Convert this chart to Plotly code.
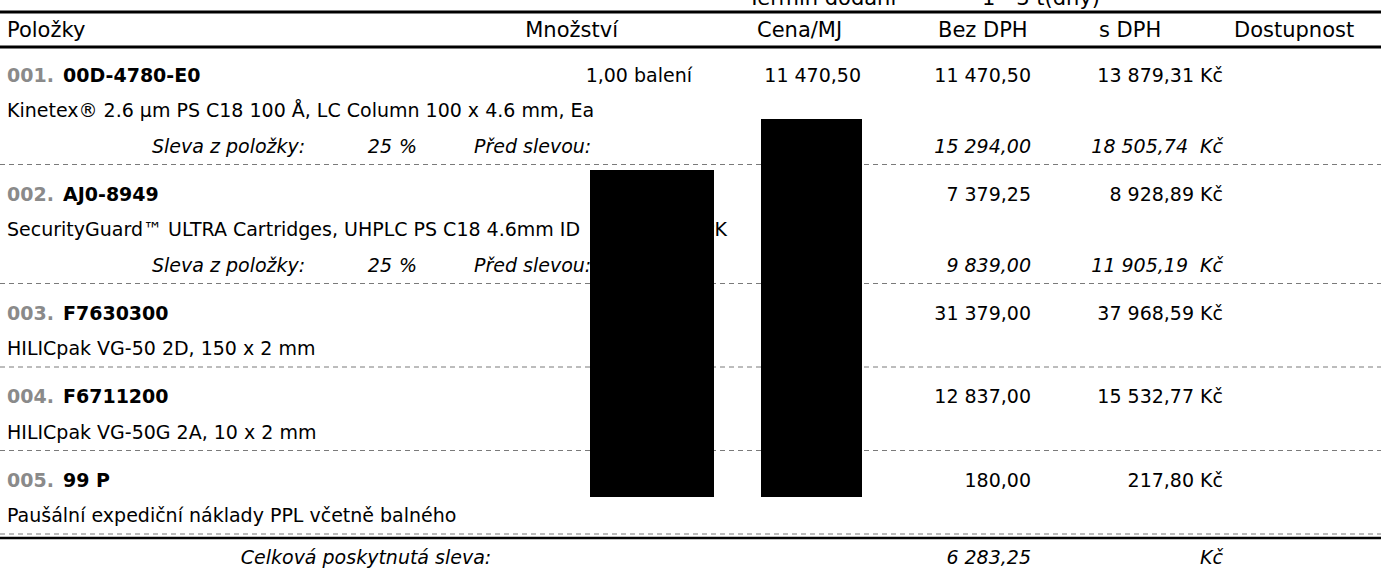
import plotly.graph_objects as go

# ---------------- data ----------------
columns = ["Položky", "Množství", "Cena/MJ", "Bez DPH", "s DPH", "Dostupnost"]
delivery_label = "Termín dodání"
delivery_value = "1 - 3 t(dny)"

item_no = ["001.", "002.", "003.", "004.", "005."]
item_code = ["00D-4780-E0", "AJ0-8949", "F7630300", "F6711200", "99 P"]
item_desc = [
    "Kinetex® 2.6 µm PS C18 100 Å, LC Column 100 x 4.6 mm, Ea",
    "SecurityGuard™ ULTRA Cartridges, UHPLC PS C18 4.6mm ID",
    "HILICpak VG-50 2D, 150 x 2 mm",
    "HILICpak VG-50G 2A, 10 x 2 mm",
    "Paušální expediční náklady PPL včetně balného",
]
item_desc_tail = [None, "3/PK", None, None, None]   # end of the text, mostly redacted
quantity = ["1,00 balení", None, None, None, None]
unit_price = ["11 470,50", None, None, None, None]
price_excl_vat = ["11 470,50", "7 379,25", "31 379,00", "12 837,00", "180,00"]
price_incl_vat = ["13 879,31", "8 928,89", "37 968,59", "15 532,77", "217,80"]
discount_pct = ["25", "25", None, None, None]
before_excl = ["15 294,00", "9 839,00", None, None, None]
before_incl = ["18 505,74", "11 905,19", None, None, None]
total_discount = "6 283,25"
currency = "Kč"
lbl_discount = "Sleva z položky:"
lbl_before = "Před slevou:"
lbl_total = "Celková poskytnutá sleva:"

# ---------------- layout constants ----------------
W, H = 1381, 571
FONT = "DejaVu Sans, Verdana, sans-serif"
FS = 19        # body text
FH = 21        # header text
TY = 2         # text anchor offset (text renders slightly above its anchor)
X_LEFT = 7
X_CODE = 63
X_QTY_R = 692
X_UNIT_R = 861
X_EXCL_R = 1031
X_INCL_R = 1223
X_TAIL_R = 727
head_x = [("left", 7), ("right", 618), ("left", 757), ("left", 938), ("left", 1099), ("left", 1234)]

texts = []


def add(x, y, t, align="left", weight="normal", style="normal", color="#000000", size=FS):
    if t is None:
        return
    texts.append((x, y + TY, t, align, weight, style, color, size))


shapes = []


def hline(y, width=1, dash=None, color="#000000"):
    line = dict(color=color, width=width)
    if dash:
        line["dash"] = dash
    shapes.append(dict(type="line", xref="x", yref="y", x0=0, x1=W, y0=y, y1=y, line=line, layer="below"))


# partially visible line at the very top
add(748, -2, delivery_label, size=FH)
add(982, -2, delivery_value, size=FH)
hline(12, width=3)

# header
for (al, hx), name in zip(head_x, columns):
    add(hx, 30, name, align=al, size=FH)
hline(47, width=3)

y = 75
for i in range(len(item_no)):
    add(X_LEFT, y, item_no[i], weight="bold", color="#8a8a8a")
    add(X_CODE, y, item_code[i], weight="bold")
    add(X_QTY_R, y, quantity[i], align="right")
    add(X_UNIT_R, y, unit_price[i], align="right")
    add(X_EXCL_R, y, price_excl_vat[i], align="right")
    add(X_INCL_R, y, price_incl_vat[i] + " " + currency, align="right")
    y_desc = y + 35.5
    add(X_LEFT, y_desc, item_desc[i])
    add(X_TAIL_R, y_desc, item_desc_tail[i], align="right")
    if discount_pct[i] is not None:
        yd = y + 71
        add(152, yd, lbl_discount, style="italic")
        add(392, yd, discount_pct[i], align="right", style="italic")
        add(399, yd, "%", style="italic")
        add(474, yd, lbl_before, style="italic")
        add(X_EXCL_R, yd, before_excl[i], align="right", style="italic")
        add(X_INCL_R, yd, before_incl[i] + "\u00a0\u00a0" + currency, align="right", style="italic")
        y_sep = y + 89.5
    else:
        y_sep = y + 54
    hline(y_sep, width=1, dash="5px,4px", color="#7a7a7a")
    y = y_sep + 29.5

hline(y_sep + 4, width=2.5)
y_tot = y_sep + 23
add(366, y_tot, lbl_total, align="center", style="italic", size=FS)
add(X_EXCL_R, y_tot, total_discount, align="right", style="italic")
add(X_INCL_R, y_tot, currency, align="right", style="italic")

# redaction boxes (drawn above the text)
for x0, x1, y0, y1 in [(590, 714, 170, 497), (761, 862, 119, 497)]:
    shapes.append(dict(type="rect", xref="x", yref="y", x0=x0, x1=x1, y0=y0, y1=y1,
                       fillcolor="#000000", line=dict(width=0), layer="above"))

# ---------------- build traces ----------------
pos = {"left": "middle right", "right": "middle left", "center": "middle center"}
groups = {}
for x, yy, t, al, wt, st, col, sz in texts:
    groups.setdefault((al, wt, st, col, sz), []).append((x, yy, t))

fig = go.Figure()
for (al, wt, st, col, sz), pts in groups.items():
    fig.add_trace(go.Scatter(
        x=[p[0] for p in pts], y=[p[1] for p in pts], text=[p[2] for p in pts],
        mode="text", textposition=pos[al],
        textfont=dict(family=FONT, size=sz, color=col, weight=wt, style=st),
        hoverinfo="skip", showlegend=False, cliponaxis=True,
    ))

fig.update_layout(
    width=W, height=H, margin=dict(l=0, r=0, t=0, b=0),
    paper_bgcolor="white", plot_bgcolor="white",
    xaxis=dict(range=[0, W], visible=False, fixedrange=True),
    yaxis=dict(range=[H, 0], visible=False, fixedrange=True),
    shapes=shapes, showlegend=False,
)
fig.write_html(
    "out.html",
    config={"displayModeBar": False},
    post_script="document.body.style.margin='0';document.body.style.overflow='hidden';",
)
